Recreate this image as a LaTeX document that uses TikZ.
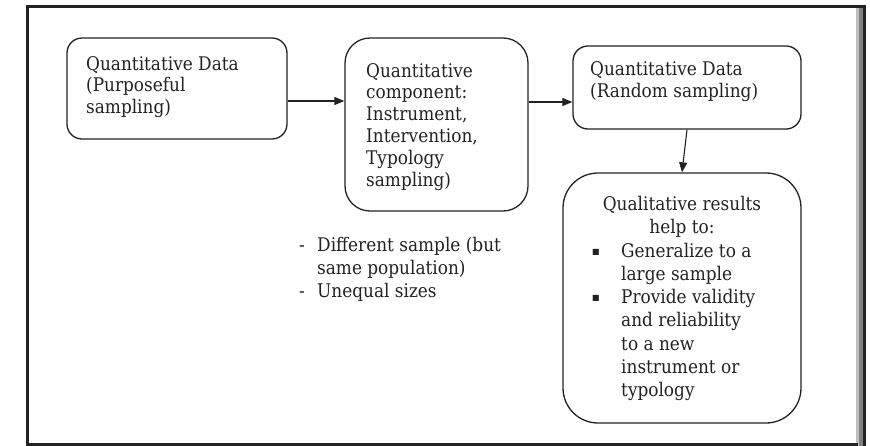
\documentclass[tikz,border=0pt]{standalone}
\usepackage{fontspec}
\setmainfont{DejaVu Serif}[FakeStretch=0.9]
\newfontfamily\symf{DejaVu Sans}
\usetikzlibrary{arrows.meta}
\newcommand\txtsize[1]{\fontsize{18.8}{#1}\selectfont}
\newcommand\bul{\makebox[29pt][l]{\raisebox{3pt}{\symf\fontsize{8}{8}\selectfont ■}}}
\newcommand\ind{\hspace*{29pt}}
\definecolor{ink}{HTML}{222222}
\begin{document}
\begin{tikzpicture}[x=1pt,y=-1pt,
  box/.style={draw=ink, line width=1.3pt, rounded corners=#1, inner sep=0pt},
  lbl/.style={anchor=base west, inner sep=0pt, text=ink},
  arr/.style={draw=ink, -{Triangle[length=10pt,width=8pt]}, line width=1.1pt}]
\useasboundingbox (0,0) rectangle (870,445);
% frame
\fill[ink] (26,5) rectangle (29,446);
\fill[ink] (26,5) rectangle (866,8);
\fill[ink] (863,5) rectangle (866,446);
\fill[black!50] (859,8) rectangle (863,446);
\fill[black!25] (856,8) rectangle (859,446);
\fill[ink] (26,443) rectangle (858,446);
% boxes
\node[box=15pt, minimum width=220pt, minimum height=101pt] (b1) at (177,88.5) {};
\node[box=25pt, minimum width=183pt, minimum height=173pt] (b2) at (436.5,124.5) {};
\node[box=15pt, minimum width=228pt, minimum height=83pt] (b3) at (687,87.5) {};
\node[box=35pt, minimum width=238pt, minimum height=250pt] (b4) at (682,298) {};
% texts
\node[lbl] (t1) at (86,70) {\parbox[t]{200pt}{\raggedright\txtsize{21.5}Quantitative Data\\(Purposeful\\sampling)}};
\node[lbl] (t2) at (366,77) {\parbox[t]{170pt}{\raggedright\txtsize{21.8}Quantitative\\component:\\Instrument,\\Intervention,\\Typology\\sampling)}};
\node[lbl] (t3) at (590,75) {\parbox[t]{210pt}{\raggedright\txtsize{22}Quantitative Data\\(Random sampling)}};
\node[lbl, anchor=base] (t4) at (682,210) {\parbox[t]{220pt}{\centering\txtsize{23}Qualitative results\\help to:}};
\node[lbl] (t5) at (592,257) {\parbox[t]{205pt}{\raggedright\txtsize{23.3}\bul Generalize to a\\\ind large sample\\\bul Provide validity\\\ind and reliability\\\ind to a new\\\ind instrument or\\\ind typology}};
\node[lbl] (t6) at (299,251) {\parbox[t]{250pt}{\raggedright\txtsize{23}\makebox[18pt][l]{-}Different sample (but\\\hspace*{18pt}same population)\\\makebox[18pt][l]{-}Unequal sizes}};
% connectors
\coordinate (ya) at (0,101);
\coordinate (yb) at (0,102);
\draw[arr] (b1.east |- ya) -- (b2.west |- ya);
\draw[arr] (b2.east |- yb) -- (b3.west |- yb);
\draw[arr] (b3.south) -- (b4.north);
\end{tikzpicture}
\end{document}
